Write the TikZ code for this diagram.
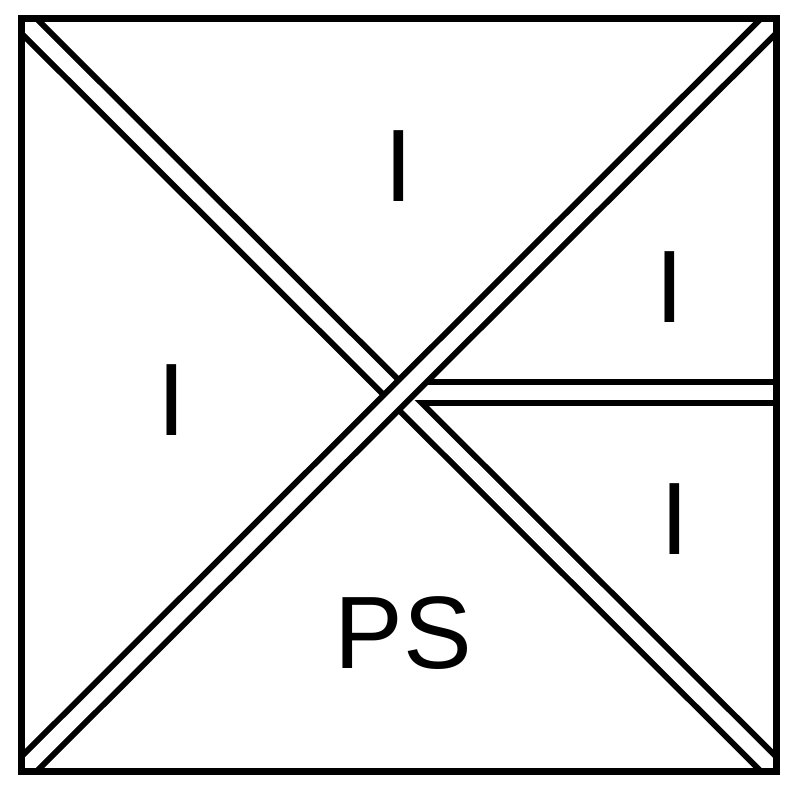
\documentclass[tikz,border=0pt]{standalone}
\usepackage{fontspec}
\setmainfont{Liberation Sans}
\begin{document}
\begin{tikzpicture}[x=1pt,y=-1pt,
  band/.style={line width=27pt, draw=black, shorten <=-25pt, shorten >=-25pt},
  bandin/.style={line width=15pt, draw=white, shorten <=-25pt, shorten >=-25pt},
  hband/.style={line width=27pt, draw=black},
  hbandin/.style={line width=15pt, draw=white},
  frame/.style={line width=7pt, draw=black},
  lbl/.style={anchor=base, inner sep=0pt, font=\fontsize{103}{103}\selectfont}]
\useasboundingbox (0,0) rectangle (800,800);
\coordinate (tl) at (21.5,18.5);
\coordinate (br) at (776,771.5);
\coordinate (bl) at (21.5,771.5);
\coordinate (tr) at (776,18.5);
\coordinate (hc) at (398.75,392.5);
\coordinate (hr) at (800,392.5);
\begin{scope}
  \clip (tl) rectangle (br);
  \draw[band] (tl) -- (br);
  \draw[hband] (hc) -- (hr);
  \draw[bandin] (tl) -- (br);
  \draw[hbandin] (hc) -- (hr);
  \draw[band] (bl) -- (tr);
  \draw[bandin] (bl) -- (tr);
\end{scope}
\draw[frame] (tl) rectangle (br);
\node[lbl] (itop) at (399,201) {I};
\node[lbl] (ileft) at (172,435) {I};
\node[lbl] (iru) at (670,322) {I};
\node[lbl] (irl) at (674.5,554) {I};
\node[lbl] (ps) at (403.5,668) {PS};
\end{tikzpicture}
\end{document}
